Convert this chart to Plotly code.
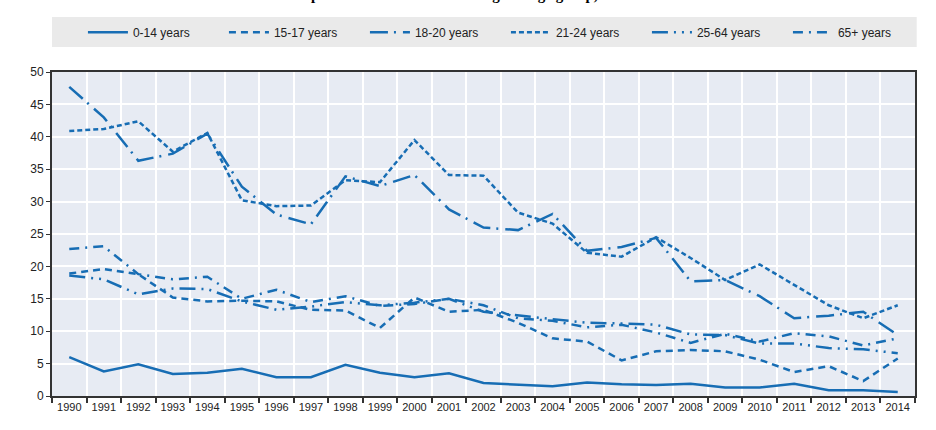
import plotly.graph_objects as go

years = [str(y) for y in range(1990, 2015)]

age_0_14 = [6.0, 3.8, 4.9, 3.4, 3.6, 4.2, 2.9, 2.9, 4.8, 3.6, 2.9, 3.5, 2.0,
            1.8, 1.5, 2.1, 1.8, 1.7, 1.9, 1.3, 1.3, 1.9, 0.9, 0.9, 0.6]
age_15_17 = [18.9, 19.6, 18.8, 15.2, 14.6, 14.7, 14.6, 13.3, 13.2, 10.5, 15.2, 13.0, 13.3,
             11.3, 8.9, 8.4, 5.5, 6.9, 7.1, 6.9, 5.6, 3.7, 4.6, 2.3, 5.8]
age_18_20 = [47.7, 43.0, 36.3, 37.4, 40.5, 32.3, 28.0, 26.5, 33.9, 32.4, 34.1, 28.8, 26.0,
             25.6, 28.1, 22.4, 23.0, 24.4, 17.7, 17.9, 15.4, 12.0, 12.4, 13.0, 9.4]
age_21_24 = [40.9, 41.2, 42.4, 37.7, 40.6, 30.2, 29.3, 29.4, 33.3, 33.0, 39.5, 34.1, 34.0,
             28.3, 26.6, 22.1, 21.5, 24.5, 21.3, 17.9, 20.3, 17.1, 14.0, 12.0, 14.0]
age_25_64 = [18.6, 18.0, 15.7, 16.6, 16.5, 14.6, 13.3, 13.8, 14.5, 14.0, 14.4, 15.0, 13.0,
             12.4, 11.8, 11.3, 11.2, 11.0, 9.5, 9.4, 8.1, 8.1, 7.4, 7.2, 6.6]
age_65_plus = [22.7, 23.1, 18.8, 18.0, 18.4, 15.0, 16.4, 14.5, 15.4, 13.9, 14.2, 15.0, 14.0,
               12.0, 11.6, 10.6, 11.0, 9.8, 8.2, 9.6, 8.4, 9.7, 9.2, 7.8, 8.9]

names = ["0-14 years", "15-17 years", "18-20 years", "21-24 years", "25-64 years", "65+ years"]
series = [age_0_14, age_15_17, age_18_20, age_21_24, age_25_64, age_65_plus]
dashes = ["solid", "7px,5px", "18px,6px,2px,7px", "5px,3px",
          "16px,6px,2px,6px,2px,6px", "10px,6px,2px,6px"]

blue = "#176db4"
font_narrow = "Liberation Sans Narrow, Arial Narrow, Liberation Sans, sans-serif"

fig = go.Figure()
for name, vals, dash in zip(names, series, dashes):
    fig.add_trace(go.Scatter(x=years, y=vals, name=name, mode="lines",
                             line=dict(color=blue, width=2.5, dash=dash)))

# grey band behind the legend
fig.add_shape(type="rect", xref="paper", yref="paper",
              x0=0.0, x1=1.002, y0=1.077, y1=1.170,
              fillcolor="#eaeaea", line_width=0, layer="below")

# title line, cut off at the top of the picture
fig.add_annotation(text="<b>Deaths per 100 000 inhabitants in a given age group, 1990-2014</b>",
                   xref="paper", yref="paper", x=0.479, y=1.2055,
                   xanchor="center", yanchor="bottom", showarrow=False,
                   font=dict(family="Liberation Serif, DejaVu Serif, serif", size=15, color="black"))

fig.update_layout(
    width=936, height=430,
    margin=dict(l=52, r=21, t=72, b=34, autoexpand=False),
    paper_bgcolor="white",
    plot_bgcolor="#e7ebf3",
    font=dict(family=font_narrow, size=11, color="#222"),
    showlegend=True,
    legend=dict(orientation="h", x=0.526, xanchor="center", y=1.123, yanchor="middle",
                bgcolor="rgba(0,0,0,0)", entrywidth=86, entrywidthmode="pixels",
                itemwidth=40, font=dict(size=12, color="#222")),
)

fig.update_xaxes(type="category", range=[-0.5, 24.5], tickson="boundaries",
                 ticks="outside", ticklen=5, tickcolor="#333", tickwidth=1.5,
                 tickangle=0,
                 showgrid=True, gridcolor="white", gridwidth=1.5,
                 showline=True, linecolor="#333", linewidth=2, mirror=True,
                 tickfont=dict(size=11))
fig.update_yaxes(range=[0, 50], dtick=5, ticks="outside", ticklen=4,
                 tickcolor="#333", showgrid=True, gridcolor="white", gridwidth=1.5,
                 zeroline=False, showline=True, linecolor="#333", linewidth=2,
                 mirror=True, tickfont=dict(size=12))

# page has a default body margin; drop it so the figure sits at the top-left corner
fig.write_html("out.html", config={"displayModeBar": False},
               post_script="document.body.style.margin='0px';")
